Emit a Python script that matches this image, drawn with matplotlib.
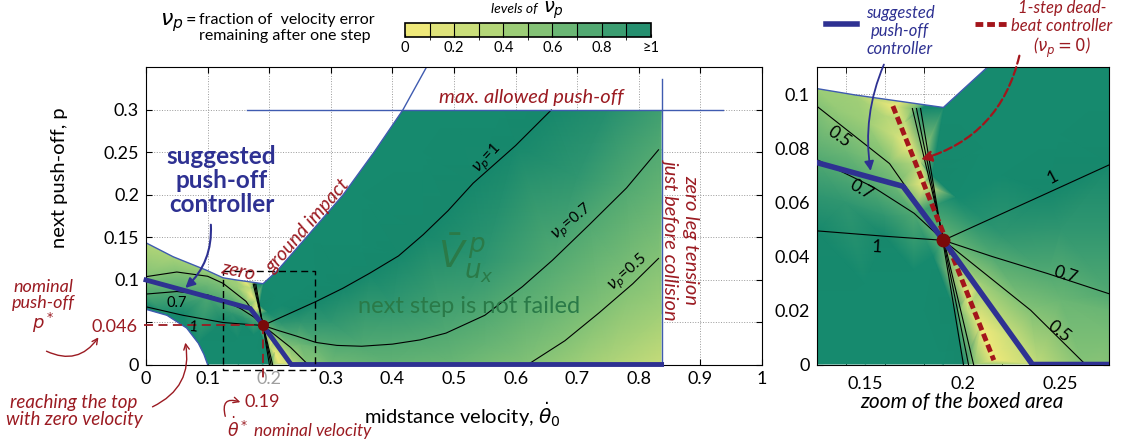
import numpy as np
import matplotlib
matplotlib.use('Agg')
import matplotlib.pyplot as plt
import matplotlib.tri as mtri
import matplotlib as mpl
from matplotlib.colors import LinearSegmentedColormap, ListedColormap, BoundaryNorm
from matplotlib.patches import Polygon
from matplotlib.lines import Line2D

plt.rcParams['font.family'] = ['Lato', 'DejaVu Sans']
plt.rcParams['mathtext.fontset'] = 'dejavusans'

W, H = 1127., 444.

#######################################
# data (x = midstance velocity, p = next push-off)
#######################################

# boundaries of the region where the next step is not failed
upper_bx = [0.0, 0.044, 0.0985, 0.125, 0.145, 0.19]
upper_bp = [0.1434, 0.127, 0.111, 0.1022, 0.0998, 0.0952]
impact_bx = [0.19, 0.2124, 0.24, 0.27, 0.32, 0.37, 0.417, 0.455]
impact_bp = [0.0952, 0.11, 0.133, 0.158, 0.2, 0.25, 0.3, 0.35]
lower_bx = [0.0, 0.034, 0.066, 0.085, 0.094, 0.1]
lower_bp = [0.065, 0.058, 0.043, 0.025, 0.012, 0.0]
tension_x = 0.837
max_p = 0.3

# nominal point
nom_x = 0.19
nom_p = 0.046

# contour lines of nu_p
c1_right_x = [0.19, 0.2434, 0.2759, 0.32, 0.363, 0.41, 0.45, 0.49, 0.531, 0.6, 0.658]
c1_right_p = [0.046, 0.0635, 0.0742, 0.09, 0.1075, 0.128, 0.153, 0.181, 0.2136, 0.258, 0.3]
c07_right_x = [0.19, 0.215, 0.2434, 0.2759, 0.31, 0.35, 0.40, 0.445, 0.487, 0.55, 0.611, 0.66, 0.72, 0.78, 0.832]
c07_right_p = [0.046, 0.04, 0.0337, 0.026, 0.0225, 0.0215, 0.024, 0.029, 0.037, 0.058, 0.0917, 0.123, 0.165, 0.208, 0.253]
c05_low_x = [0.62, 0.68, 0.735, 0.79, 0.832]
c05_low_p = [0.0, 0.028, 0.0606, 0.095, 0.125]
c05_near_x = [0.19, 0.2348, 0.2607, 0.263]
c05_near_p = [0.046, 0.0201, 0.0016, 0.0]
c1_left_x = [0.0, 0.06, 0.125, 0.16, 0.19]
c1_left_p = [0.068, 0.058, 0.0495, 0.0475, 0.046]
c07_left_x = [0.0, 0.05, 0.1, 0.125, 0.1538, 0.175, 0.19]
c07_left_p = [0.083, 0.086, 0.082, 0.0759, 0.0658, 0.056, 0.046]
c05_left_x = [0.0, 0.05, 0.1, 0.125, 0.1624, 0.19]
c05_left_p = [0.1035, 0.109, 0.104, 0.0957, 0.0744, 0.046]
# bunched contours through the nominal point (0.5, 0.7, 1)
fanA_x = [0.1741, 0.1823, 0.1989, 0.2055]
fanA_p = [0.0948, 0.07, 0.02, 0.0]
fanB_x = [0.1762, 0.1832, 0.1973, 0.2029]
fanB_p = [0.0948, 0.07, 0.02, 0.0]
fanC_x = [0.1783, 0.1841, 0.1957, 0.2003]
fanC_p = [0.0948, 0.07, 0.02, 0.0]

# controllers
ctrl_x = [0.0, 0.1693, 0.19, 0.2357, 0.837]
ctrl_p = [0.0996, 0.066, 0.046, 0.0, 0.0]
dead_x = [0.1641, 0.172, 0.18, 0.2025, 0.209, 0.2159]
dead_p = [0.0957, 0.0813, 0.0668, 0.0259, 0.0141, 0.0016]

# extra samples of nu_p estimated from the colours
extra_x = [0.19, 0.2124, 0.21, 0.196, 0.25, 0.27, 0.35, 0.417, 0.45, 0.5, 0.58, 0.35,
           0.3, 0.4, 0.55, 0.7, 0.75, 0.837, 0.837,
           0.65, 0.837, 0.55,
           0.837, 0.837, 0.75, 0.7, 0.3, 0.4, 0.5, 0.2385,
           0.0, 0.044, 0.0985, 0.125, 0.145, 0.1705,
           0.0, 0.1,
           0.0, 0.06, 0.125, 0.16,
           0.0, 0.034, 0.066, 0.085, 0.1, 0.15, 0.19, 0.15, 0.175,
           0.2025, 0.19,
           # zoomed area
           0.135, 0.15, 0.16, 0.165, 0.178, 0.14, 0.165, 0.14,
           0.13, 0.16, 0.18, 0.185,
           0.21, 0.225, 0.27, 0.275, 0.25, 0.275,
           0.22, 0.25, 0.275, 0.22, 0.25, 0.275]
extra_p = [0.0952, 0.11, 0.08, 0.062, 0.1, 0.158, 0.2, 0.3, 0.25, 0.3, 0.3, 0.14,
           0.05, 0.07, 0.12, 0.22, 0.3, 0.3, 0.253,
           0.06, 0.19, 0.025,
           0.0, 0.06, 0.0, 0.0, 0.0, 0.0, 0.0, 0.0,
           0.1434, 0.127, 0.111, 0.1022, 0.0998, 0.09,
           0.093, 0.093,
           0.075, 0.072, 0.0627, 0.055,
           0.065, 0.058, 0.043, 0.025, 0.0, 0.0, 0.0, 0.03, 0.035,
           0.02, 0.046,
           0.095, 0.09, 0.092, 0.085, 0.075, 0.079, 0.066, 0.06,
           0.02, 0.01, 0.02, 0.04,
           0.03, 0.01, 0.0, 0.012, 0.024, 0.02,
           0.048, 0.05, 0.05, 0.07, 0.085, 0.1]
extra_nu = [1.3, 1.4, 1.4, 1.15, 1.45, 1.45, 1.5, 1.45, 1.35, 1.25, 1.1, 1.25,
            0.85, 0.85, 0.85, 0.85, 0.9, 0.78, 0.7,
            0.6, 0.6, 0.62,
            0.22, 0.38, 0.33, 0.4, 0.58, 0.63, 0.6, 0.25,
            0.3, 0.35, 0.4, 0.4, 0.38, 0.25,
            0.6, 0.6,
            0.85, 0.85, 0.85, 0.85,
            1.1, 1.2, 1.3, 1.4, 1.4, 1.4, 1.3, 1.4, 1.3,
            0.25, 0.6,
            0.42, 0.4, 0.3, 0.2, 0.25, 0.6, 0.6, 0.85,
            1.4, 1.4, 1.3, 1.2,
            0.4, 0.2, 0.48, 0.55, 0.6, 0.6,
            0.85, 0.85, 0.85, 1.25, 1.35, 1.4]

cb_colors = ['#efe97a', '#dfe37b', '#cade7a', '#b4d678', '#9ccd77',
             '#84c276', '#6ab674', '#52a972', '#3b9d71', '#258f6f']
cb_labels = ['0', '0.2', '0.4', '0.6', '0.8', '\u22651']

navy = '#2e3192'
darkred = '#9b1b22'
bblue = '#3f5bb0'
green_txt = '#2a7a48'


def fp(px, py):
  # figure pixel (from top-left) -> figure fraction
  return (px / W, 1. - py / H)


#######################################
# build the sample set of the nu_p field
#######################################

sx, sp, sn = [], [], []
def add_samples(xs, ps, nu):
  for x, p in zip(xs, ps):
    if abs(x - nom_x) < 1e-6 and abs(p - nom_p) < 1e-6:
      continue
    sx.append(x); sp.append(p); sn.append(nu)

add_samples(c1_right_x, c1_right_p, 1.0)
add_samples(c07_right_x, c07_right_p, 0.7)
add_samples(c05_low_x, c05_low_p, 0.5)
add_samples(c05_near_x, c05_near_p, 0.5)
add_samples(c1_left_x, c1_left_p, 1.0)
add_samples(c07_left_x, c07_left_p, 0.7)
add_samples(c05_left_x, c05_left_p, 0.5)
add_samples(fanA_x, fanA_p, 0.5)
add_samples(fanB_x, fanB_p, 0.7)
add_samples(fanC_x, fanC_p, 1.0)
add_samples(dead_x, dead_p, 0.0)
sx += extra_x; sp += extra_p; sn += extra_nu
tri = mtri.Triangulation(sx, sp)

field_cmap = LinearSegmentedColormap.from_list('nu', cb_colors + ['#17886c'])
field_cmap.set_over('#168a6e')

# region outline polygon
reg_x = list(upper_bx) + [x for x, p in zip(impact_bx, impact_bp) if p <= max_p][1:] + \
        [tension_x, tension_x] + list(lower_bx[::-1])
reg_p = list(upper_bp) + [p for p in impact_bp if p <= max_p][1:] + \
        [max_p, 0.0] + list(lower_bp[::-1])


def draw_field(ax, lw_c):
  poly = Polygon(np.column_stack([reg_x, reg_p]), closed=True, transform=ax.transData,
                 facecolor='none', edgecolor='none')
  ax.add_patch(poly)
  tp = ax.tripcolor(tri, sn, shading='gouraud', cmap=field_cmap, vmin=0, vmax=1, zorder=1)
  tp.set_clip_path(poly)
  for cx, cp in [(c1_right_x, c1_right_p), (c07_right_x, c07_right_p), (c05_low_x, c05_low_p),
                 (c05_near_x, c05_near_p), (c1_left_x, c1_left_p), (c07_left_x, c07_left_p),
                 (c05_left_x, c05_left_p), (fanA_x, fanA_p), (fanB_x, fanB_p), (fanC_x, fanC_p)]:
    ax.plot(cx, cp, color='k', lw=lw_c, zorder=2)
  # region boundaries
  ax.plot(list(upper_bx) + list(impact_bx[1:]), list(upper_bp) + list(impact_bp[1:]),
          color=bblue, lw=1.0, zorder=2.5)
  ax.plot(lower_bx, lower_bp, color=bblue, lw=1.0, zorder=2.5)


#######################################
# figure
#######################################

fig = plt.figure(figsize=(W / 100., H / 100.), dpi=100)
ax = fig.add_axes([146 / W, 1 - 364.5 / H, 616 / W, 297 / H])
ax2 = fig.add_axes([816.7 / W, 1 - 364.5 / H, 292.3 / W, 297 / H])
cax = fig.add_axes([405 / W, 1 - 37.3 / H, 245.7 / W, 14.6 / H])

# ---- main panel ----
draw_field(ax, 0.8)
ax.plot([tension_x, tension_x], [0, 0.336], color=bblue, lw=1.0, zorder=2.5)
ax.plot([0.164, 0.936], [max_p, max_p], color=bblue, lw=1.0, zorder=2.5)
ax.plot(ctrl_x, ctrl_p, color=navy, lw=3.5, zorder=3, solid_joinstyle='miter', clip_on=False)
ax.plot([0.125, 0.275, 0.275, 0.125, 0.125], [0.11, 0.11, -0.0065, -0.0065, 0.11],
        color='k', lw=1.0, dashes=(5, 3), zorder=3.5, clip_on=False)
ax.plot([-0.004, nom_x], [nom_p, nom_p], color=darkred, lw=1.3, dashes=(5, 3), zorder=3.6, clip_on=False)
ax.plot([nom_x, nom_x], [nom_p, -0.02], color=darkred, lw=1.3, dashes=(5, 3), zorder=3.6, clip_on=False)
ax.plot([nom_x], [nom_p], 'o', color='#7a0a0a', ms=7, zorder=4)

ax.set_xlim(0, 1)
ax.set_ylim(0, 0.35)
ax.set_xticks(np.arange(0, 1.01, 0.1))
ax.set_xticklabels(['0', '0.1', '0.2', '0.3', '0.4', '0.5', '0.6', '0.7', '0.8', '0.9', '1'])
ax.get_xticklabels()[2].set_color('#a0a0a0')
ax.set_yticks(np.arange(0, 0.31, 0.05))
ax.set_yticklabels(['0', '', '0.1', '0.15', '0.2', '0.25', '0.3'])
ax.tick_params(direction='in', top=True, right=True, length=4, labelsize=13, pad=5)
ax.grid(True, linestyle=':', color='#9a9a9a', lw=0.7)
ax.set_axisbelow(True)
ax.set_ylabel('next push-off, p', fontsize=14.5)
ax.yaxis.set_label_coords(-0.127, 0.628)
ax.set_xlabel(r'midstance velocity, $\dot{\theta}_0$', fontsize=14.5, va='top')
ax.xaxis.set_label_coords(0.513, -0.12)

ax.text(0.625, 0.315, 'max. allowed push-off', color=darkred, style='italic', fontsize=14.5,
        ha='center', va='center')
ax.text(0.149, 0.11, 'zero', color=darkred, style='italic', fontsize=14, ha='center',
        va='center', rotation=-12, zorder=5)
ax.text(0.263, 0.163, 'ground impact', color=darkred, style='italic', fontsize=14,
        ha='center', va='center', rotation=49, zorder=5)
ax.text(0.868, 0.147, 'zero leg tension\njust before collision', color=darkred, style='italic',
        fontsize=14.5, ha='center', va='center', rotation=-90, multialignment='center')
ax.text(0.52, 0.125, r'$\bar{V}^{\,p}_{u_x}$', color=green_txt, fontsize=27, ha='center', va='center')
ax.text(0.524, 0.068, 'next step is not failed', color=green_txt, fontsize=17, ha='center', va='center')
ax.text(0.555, 0.243, r'$\nu_p$=1', fontsize=11, rotation=47, ha='center', va='center')
ax.text(0.692, 0.167, r'$\nu_p$=0.7', fontsize=11, rotation=40, ha='center', va='center')
ax.text(0.782, 0.108, r'$\nu_p$=0.5', fontsize=11, rotation=42, ha='center', va='center')
ax.text(0.05, 0.073, '0.7', fontsize=10.5, ha='center', va='center', zorder=5)
ax.text(0.077, 0.044, '1', fontsize=10.5, ha='center', va='center', rotation=-5, zorder=5)
ax.text(0.1226, 0.217, 'suggested\npush-off\ncontroller', color=navy, fontsize=17.5,
        fontweight='bold', ha='center', va='center', linespacing=1.05)
ax.annotate('', xy=(0.0605, 0.088), xytext=(0.105, 0.168),
            arrowprops=dict(arrowstyle='-|>', color=navy, lw=1.5, mutation_scale=14,
                            connectionstyle='arc3,rad=-0.25'), zorder=5)

# annotations outside the main axes
fig.text(*fp(114, 327), '0.046', color=darkred, fontsize=13, ha='center', va='center')
fig.text(*fp(43, 307), 'nominal\npush-off\n$p^*$', color=darkred, style='italic', fontsize=13,
         ha='center', va='center', linespacing=1.0)
fig.text(*fp(262, 402), '0.19', color=darkred, fontsize=13, ha='center', va='center')
fig.text(*fp(227, 428), r'$\dot{\theta}^*$ nominal velocity', color=darkred, style='italic',
         fontsize=12.5, ha='left', va='center')
fig.text(*fp(74, 411), 'reaching the top\nwith zero velocity', color=darkred, style='italic',
         fontsize=13.5, ha='center', va='center', linespacing=1.0)
arr_red = dict(arrowstyle='->', color=darkred, lw=1.0, mutation_scale=10)
ax.annotate('', xy=(0.063, 0.029), xycoords='data', xytext=fp(150, 408), textcoords='figure fraction',
            arrowprops=dict(arr_red, connectionstyle='arc3,rad=0.4'), annotation_clip=False)
fig.add_artist(mpl.patches.FancyArrowPatch(fp(44, 350), fp(100, 335), transform=fig.transFigure,
               connectionstyle='arc3,rad=0.45', **arr_red))
fig.add_artist(mpl.patches.FancyArrowPatch(fp(226, 419), fp(243, 403), transform=fig.transFigure,
               connectionstyle='arc3,rad=-1.0', **arr_red))

# top-left legend text
fig.text(*fp(160, 23), r'$\nu_p$', fontsize=16, ha='left', va='center')
fig.text(*fp(186, 20), '=', fontsize=13, ha='left', va='center')
fig.text(*fp(199, 28), 'fraction of  velocity error\nremaining after one step', fontsize=11.5,
         ha='left', va='center', linespacing=1.1)

# colorbar
cb = mpl.colorbar.ColorbarBase(cax, cmap=ListedColormap(cb_colors),
                               norm=BoundaryNorm(np.linspace(0, 1, 11), 10),
                               orientation='horizontal', drawedges=True,
                               ticks=[0, 0.2, 0.4, 0.6, 0.8, 1.0])
cb.set_ticklabels(cb_labels)
cb.outline.set_linewidth(1.2)
cb.dividers.set_linewidth(0.8)
cax.tick_params(labelsize=10.5, length=2, direction='in', pad=3)
fig.text(*fp(538, 9), 'levels of', style='italic', fontsize=10, ha='right', va='center')
fig.text(*fp(543, 10), r'$\nu_p$', fontsize=14, ha='left', va='center')

# ---- zoom panel ----
draw_field(ax2, 0.8)
ax2.plot(dead_x[:1] + dead_x[-1:], dead_p[:1] + dead_p[-1:], color='#a3151b', lw=3.5,
         dashes=(1.6, 0.8), zorder=3)
ax2.plot(ctrl_x, ctrl_p, color=navy, lw=4, zorder=3.2, solid_joinstyle='miter')
ax2.plot([nom_x], [nom_p], 'o', color='#7a0a0a', ms=9, zorder=4)
ax2.set_xlim(0.125, 0.275)
ax2.set_ylim(0, 0.11)
ax2.set_xticks([0.15, 0.2, 0.25])
ax2.set_xticklabels(['0.15', '0.2', '0.25'])
ax2.set_xticks(np.arange(0.14, 0.27, 0.02), minor=True)
ax2.set_yticks(np.arange(0, 0.101, 0.02))
ax2.set_yticklabels(['0', '0.02', '0.04', '0.06', '0.08', '0.1'])
ax2.tick_params(axis='x', which='major', length=0, labelsize=13, pad=8)
ax2.tick_params(axis='x', which='minor', direction='in', top=True, bottom=True, length=4)
ax2.tick_params(axis='y', direction='in', right=True, length=4, labelsize=13, pad=5)
ax2.grid(True, which='minor', axis='x', linestyle=':', color='#9a9a9a', lw=0.7)
ax2.grid(True, which='major', axis='y', linestyle=':', color='#9a9a9a', lw=0.7)
ax2.set_axisbelow(True)
ax2.set_xlabel('zoom of the boxed area', style='italic', fontsize=15, va='top')
ax2.xaxis.set_label_coords(0.496, -0.093)

ax2.text(0.1366, 0.0843, '0.5', fontsize=12.5, rotation=-35, ha='center', va='center', zorder=5)
ax2.text(0.148, 0.0646, '0.7', fontsize=12.5, rotation=-30, ha='center', va='center', zorder=5)
ax2.text(0.156, 0.0435, '1', fontsize=12.5, rotation=-3, ha='center', va='center', zorder=5)
ax2.text(0.246, 0.0695, '1', fontsize=12.5, rotation=28, ha='center', va='center', zorder=5)
ax2.text(0.2529, 0.0331, '0.7', fontsize=12.5, rotation=-18, ha='center', va='center', zorder=5)
ax2.text(0.2495, 0.0121, '0.5', fontsize=12.5, rotation=-38, ha='center', va='center', zorder=5)

ax2.annotate('', xy=(0.1529, 0.0707), xycoords='data', xytext=fp(885, 62), textcoords='figure fraction',
             arrowprops=dict(arrowstyle='-|>', color=navy, lw=1.3, mutation_scale=14,
                             connectionstyle='arc3,rad=0.15'), annotation_clip=False, zorder=6)
ax2.annotate('', xy=(0.1771, 0.0757), xycoords='data', xytext=fp(1020, 53), textcoords='figure fraction',
             arrowprops=dict(arrowstyle='-|>', color='#a3151b', lw=1.6, linestyle='--', mutation_scale=16,
                             connectionstyle='arc3,rad=-0.3'), annotation_clip=False, zorder=6)

# legend above zoom panel
fig.add_artist(Line2D([826 / W, 857 / W], [1 - 24 / H] * 2, color=navy, lw=4))
fig.text(*fp(900, 31), 'suggested\npush-off\ncontroller', color=navy, style='italic', fontsize=12,
         ha='center', va='center', linespacing=1.15)
fig.add_artist(Line2D([975 / W, 1007 / W], [1 - 24 / H] * 2, color='#a3151b', lw=3.5, dashes=(1.6, 0.8)))
fig.text(*fp(1062, 30), '1-step dead-\nbeat controller\n($\\nu_p = 0$)', color=darkred, style='italic',
         fontsize=12, ha='center', va='center', linespacing=1.15)

fig.savefig('out.png', dpi=100)
